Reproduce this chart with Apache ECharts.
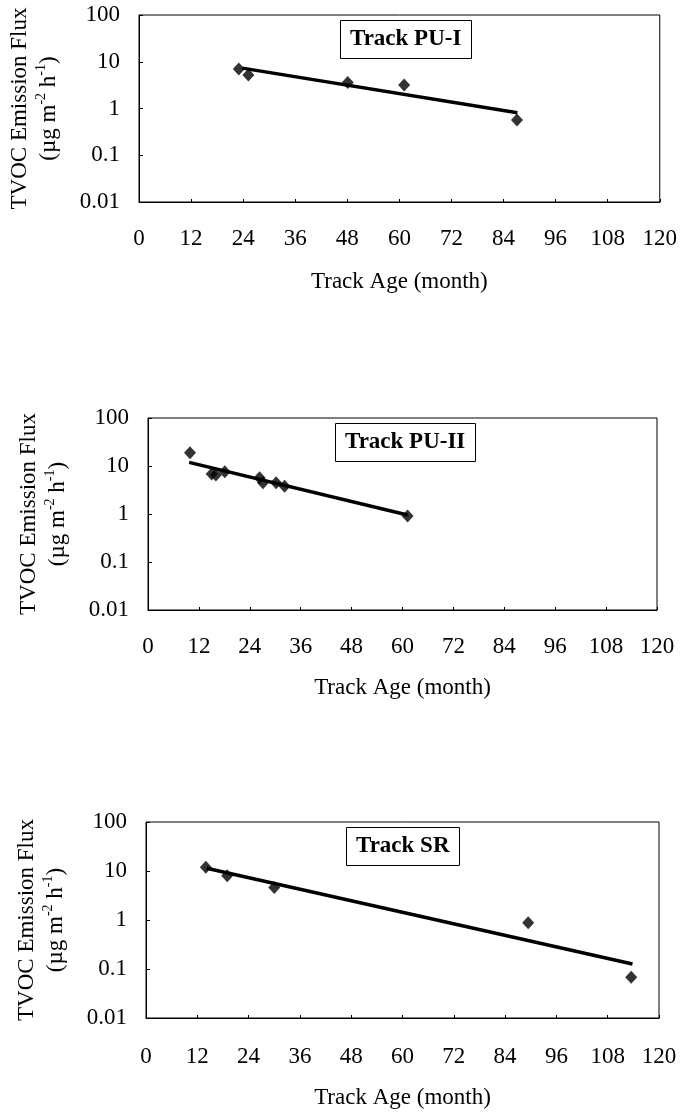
<!DOCTYPE html>
<html>
<head>
<meta charset="utf-8">
<script src="https://cdn.jsdelivr.net/npm/echarts@6/dist/echarts.min.js"></script>
<style>
  html, body { margin: 0; padding: 0; background: #fff; }
  #main { width: 680px; height: 1113px; }
</style>
</head>
<body>
<div id="main"></div>
<script>
// 数据
var xTicks = ['0', '12', '24', '36', '48', '60', '72', '84', '96', '108', '120'];
var yTicks = ['0.01', '0.1', '1', '10', '100'];

var pu1Age = [23.0, 25.2, 48.1, 61.1, 87.1];
var pu1Flux = [7.0, 5.2, 3.6, 3.2, 0.57];
var pu1FitAge = [23.8, 87.2];
var pu1FitFlux = [7.3, 0.81];

var pu2Age = [9.9, 15.0, 16.0, 18.1, 26.3, 27.1, 30.2, 32.2, 61.2];
var pu2Flux = [18.9, 6.8, 6.5, 7.6, 5.7, 4.5, 4.5, 3.8, 0.91];
var pu2FitAge = [9.7, 61.2];
var pu2FitFlux = [11.9, 0.95];

var srAge = [14.0, 19.0, 30.0, 89.4, 113.5];
var srFlux = [11.9, 8.0, 4.6, 0.88, 0.068];
var srFitAge = [14.2, 113.8];
var srFitFlux = [11.4, 0.126];

var titles = ['Track PU-I', 'Track PU-II', 'Track SR'];

var font = 'Liberation Serif, Times New Roman, serif';

function pairs(xs, ys) {
    var out = [];
    for (var i = 0; i < xs.length; i++) {
        out.push([xs[i], ys[i]]);
    }
    return out;
}

// 三个子图的位置
var panels = [
    {left: 138, top: 15, width: 523, height: 187, box: [340, 20], labelGap: 25, nameGap: 68,
     pts: pairs(pu1Age, pu1Flux), fit: pairs(pu1FitAge, pu1FitFlux)},
    {left: 148, top: 418, width: 509, height: 192, box: [335, 423], labelGap: 25, nameGap: 66,
     pts: pairs(pu2Age, pu2Flux), fit: pairs(pu2FitAge, pu2FitFlux)},
    {left: 146, top: 822, width: 513, height: 196, box: [346, 827], labelGap: 27, nameGap: 68,
     pts: pairs(srAge, srFlux), fit: pairs(srFitAge, srFitFlux)}
];

var grid = [], xAxis = [], yAxis = [], series = [], title = [];

panels.forEach(function (p, i) {
    grid.push({
        left: p.left, top: p.top, width: p.width, height: p.height,
        show: true, borderColor: '#000', borderWidth: 1, backgroundColor: 'transparent'
    });
    xAxis.push({
        gridIndex: i, type: 'value', min: 0, max: 120, interval: 12,
        name: 'Track Age (month)', nameLocation: 'middle', nameGap: p.nameGap,
        nameTextStyle: {fontFamily: font, fontSize: 23, color: '#000'},
        axisLine: {show: true, lineStyle: {color: '#000', width: 1}},
        axisTick: {show: true, inside: true, length: 3, lineStyle: {color: '#000'}},
        axisLabel: {
            fontFamily: font, fontSize: 23, color: '#000', margin: p.labelGap,
            formatter: function (v, idx) { return xTicks[idx]; }
        },
        splitLine: {show: false}
    });
    yAxis.push({
        gridIndex: i, type: 'log', logBase: 10, min: 0.01, max: 100,
        name: '{t|TVOC Emission Flux}\n{t|(µg m}{s|-2}{t| h}{s|-1}{t|)}',
        nameLocation: 'middle', nameGap: 76, nameRotate: 90,
        nameTextStyle: {
            rich: {
                t: {fontFamily: font, fontSize: 23, color: '#000', lineHeight: 29, verticalAlign: 'middle'},
                s: {fontFamily: font, fontSize: 14, color: '#000', lineHeight: 29, verticalAlign: 'top'}
            }
        },
        axisLine: {show: true, lineStyle: {color: '#000', width: 1}},
        axisTick: {show: true, inside: true, length: 4, lineStyle: {color: '#000'}},
        minorTick: {show: false},
        axisLabel: {
            fontFamily: font, fontSize: 23, color: '#000', margin: 19,
            formatter: function (v, idx) { return yTicks[idx]; }
        },
        splitLine: {show: false}
    });
    title.push({
        text: titles[i], left: p.box[0], top: p.box[1],
        borderColor: '#000', borderWidth: 1, padding: [8, 10, 8, 10],
        textStyle: {fontFamily: font, fontSize: 23, fontWeight: 'bold', color: '#000'}
    });
    series.push({
        type: 'line', xAxisIndex: i, yAxisIndex: i, data: p.fit,
        symbol: 'none', lineStyle: {color: '#000', width: 3.5}, z: 2
    });
    series.push({
        type: 'scatter', xAxisIndex: i, yAxisIndex: i, data: p.pts,
        symbol: 'diamond', symbolSize: [12, 13], itemStyle: {color: '#000'}, z: 3
    });
});

var myChart = echarts.init(document.getElementById('main'));
myChart.setOption({
    animation: false,
    backgroundColor: '#fff',
    title: title,
    grid: grid,
    xAxis: xAxis,
    yAxis: yAxis,
    series: series
});
</script>
</body>
</html>
